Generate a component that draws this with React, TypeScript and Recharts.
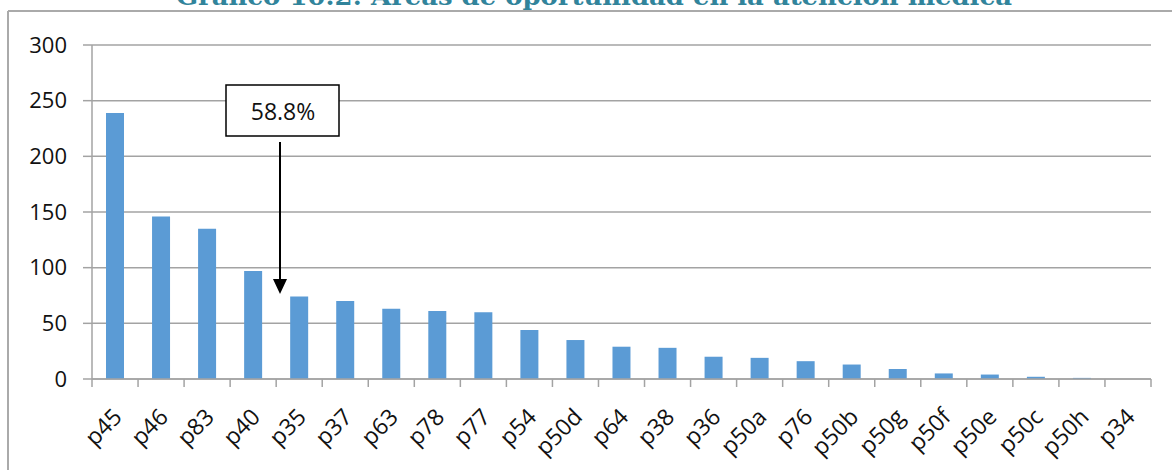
import React from "react";
import { BarChart, Bar, XAxis, YAxis, CartesianGrid } from "recharts";

const categories = ["p45", "p46", "p83", "p40", "p35", "p37", "p63", "p78", "p77", "p54", "p50d", "p64", "p38", "p36", "p50a", "p76", "p50b", "p50g", "p50f", "p50e", "p50c", "p50h", "p34"];
const counts = [239, 146, 135, 97, 74, 70, 63, 61, 60, 44, 35, 29, 28, 20, 19, 16, 13, 9, 5, 4, 2, 1, 0];
const yTicks = [0, 50, 100, 150, 200, 250, 300];
const title = "Gráfico 10.2: Áreas de oportunidad en la atención médica";
const calloutText = "58.8%";

const data = categories.map((name, i) => ({ name, value: counts[i] }));

const W = 1172;
const H = 470;
const LEFT = 92;
const RIGHT = 21;
const BAND = (W - LEFT - RIGHT) / categories.length;
const GRID = "#a3a3a3";
const FONT = "'Open Sans', sans-serif";

function XTick(props: any) {
    const { x, y, payload, index } = props;
    const last = index === categories.length - 1;
    return (
        <g>
            <line x1={x - BAND / 2} x2={x - BAND / 2} y1={y} y2={y + 8} stroke={GRID} strokeWidth={1.5} />
            {last && <line x1={x + BAND / 2} x2={x + BAND / 2} y1={y} y2={y + 8} stroke={GRID} strokeWidth={1.5} />}
            <text
                x={x + 2}
                y={y + 33}
                transform={`rotate(-45 ${x + 2} ${y + 33})`}
                textAnchor="end"
                dominantBaseline="central"
                fontFamily={FONT}
                fontSize={23}
                fill="#111"
            >
                {payload.value}
            </text>
        </g>
    );
}

export default function App() {
    return (
        <div style={{ position: "fixed", left: 0, top: 0, width: W, height: H, background: "#fff", overflow: "hidden" }}>
            <BarChart width={W} height={H} data={data} margin={{ top: 45, right: RIGHT, left: 0, bottom: 0 }}>
                <CartesianGrid vertical={false} stroke={GRID} strokeWidth={1.5} />
                <XAxis
                    dataKey="name"
                    height={91}
                    interval={0}
                    tickSize={0}
                    tickMargin={0}
                    tickLine={false}
                    axisLine={{ stroke: GRID, strokeWidth: 1.5 }}
                    tick={<XTick />}
                />
                <YAxis
                    width={LEFT}
                    domain={[0, 300]}
                    ticks={yTicks}
                    interval={0}
                    tickSize={9}
                    tickMargin={16}
                    tickLine={{ stroke: GRID, strokeWidth: 1.5 }}
                    axisLine={{ stroke: GRID, strokeWidth: 1.5 }}
                    tick={{ fontFamily: FONT, fontSize: 22, fill: "#111" }}
                />
                <Bar dataKey="value" fill="#5b9bd5" barSize={18} isAnimationActive={false} />
            </BarChart>
            <svg width={W} height={H} style={{ position: "absolute", left: 0, top: 0, pointerEvents: "none" }}>
                <line x1={8} x2={W} y1={11} y2={11} stroke="#aaaaaa" strokeWidth={2} />
                <line x1={8} x2={8} y1={11} y2={H} stroke="#aaaaaa" strokeWidth={2} />
                <text
                    x={594}
                    y={5}
                    textAnchor="middle"
                    fontFamily="'DejaVu Serif', serif"
                    fontWeight="bold"
                    fontSize={24}
                    fill="#31849b"
                    textLength={836}
                    lengthAdjust="spacingAndGlyphs"
                >
                    {title}
                </text>
                <rect x={226} y={85} width={113} height={51} fill="#fff" stroke="#000" strokeWidth={1.5} />
                <text x={283} y={111} textAnchor="middle" dominantBaseline="central" fontFamily={FONT} fontSize={23} fill="#111">
                    {calloutText}
                </text>
                <line x1={280} x2={280} y1={142} y2={280} stroke="#000" strokeWidth={2} />
                <polygon points="273,279 287,279 280,294" fill="#000" />
            </svg>
        </div>
    );
}
